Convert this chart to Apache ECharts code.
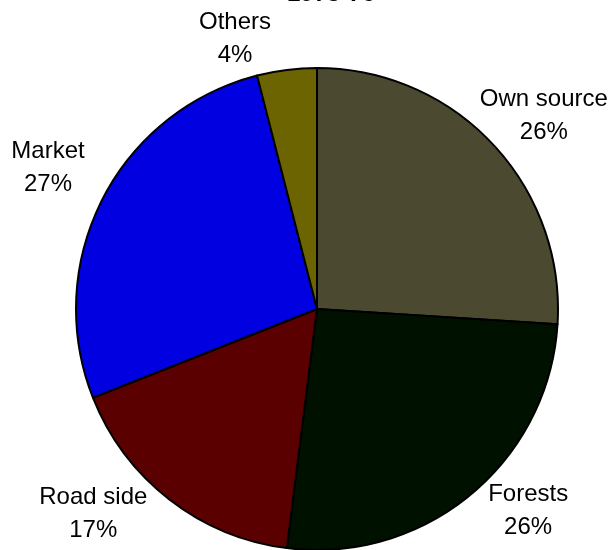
<!DOCTYPE html>
<html>
<head>
<meta charset="utf-8">
<script src="https://cdn.jsdelivr.net/npm/echarts@6/dist/echarts.min.js"></script>
<style>html,body{margin:0;padding:0;background:#fff}#c{width:616px;height:550px}</style>
</head>
<body>
<div id="c"></div>
<script>
var titleText = '1975-76';
var categories = ['Own source', 'Forests', 'Road side', 'Market', 'Others'];
var values = [26, 26, 17, 27, 4];
var colors = ['#4B4A30', '#001100', '#5A0000', '#0000E0', '#6B6400'];
var labelShift = [[6, 14], [18, -32], [-38, -35], [1, -4], [-44, 30]];

var chart = echarts.init(document.getElementById('c'), null, {renderer: 'canvas'});
var pieData = categories.map(function (n, i) {
  return {name: n, value: values[i], itemStyle: {color: colors[i]}};
});
chart.setOption({
  animation: false,
  title: {
    text: titleText, left: 326, top: -23, textAlign: 'center',
    textStyle: {fontFamily: 'Liberation Sans, Arial', fontSize: 24, fontWeight: 'bold', color: '#000'}
  },
  series: [{
    type: 'pie',
    center: [317, 309],
    radius: [0, 241],
    startAngle: 90,
    clockwise: true,
    silent: true,
    label: {show: false},
    labelLine: {show: false},
    itemStyle: {borderColor: '#000', borderWidth: 2},
    data: pieData
  }, {
    type: 'pie',
    center: [317, 309],
    radius: [241, 359],
    startAngle: 90,
    clockwise: true,
    silent: true,
    itemStyle: {color: 'rgba(0,0,0,0)', borderWidth: 0},
    label: {
      show: true, position: 'inside', formatter: '{b}\n{d}%',
      fontFamily: 'Liberation Sans, Arial', fontSize: 24, lineHeight: 33,
      color: '#000', align: 'center'
    },
    labelLine: {show: false},
    labelLayout: function (p) {
      var s = labelShift[p.dataIndex];
      return {dx: s[0], dy: s[1]};
    },
    data: categories.map(function (n, i) { return {name: n, value: values[i]}; })
  }]
});
</script>
</body>
</html>
